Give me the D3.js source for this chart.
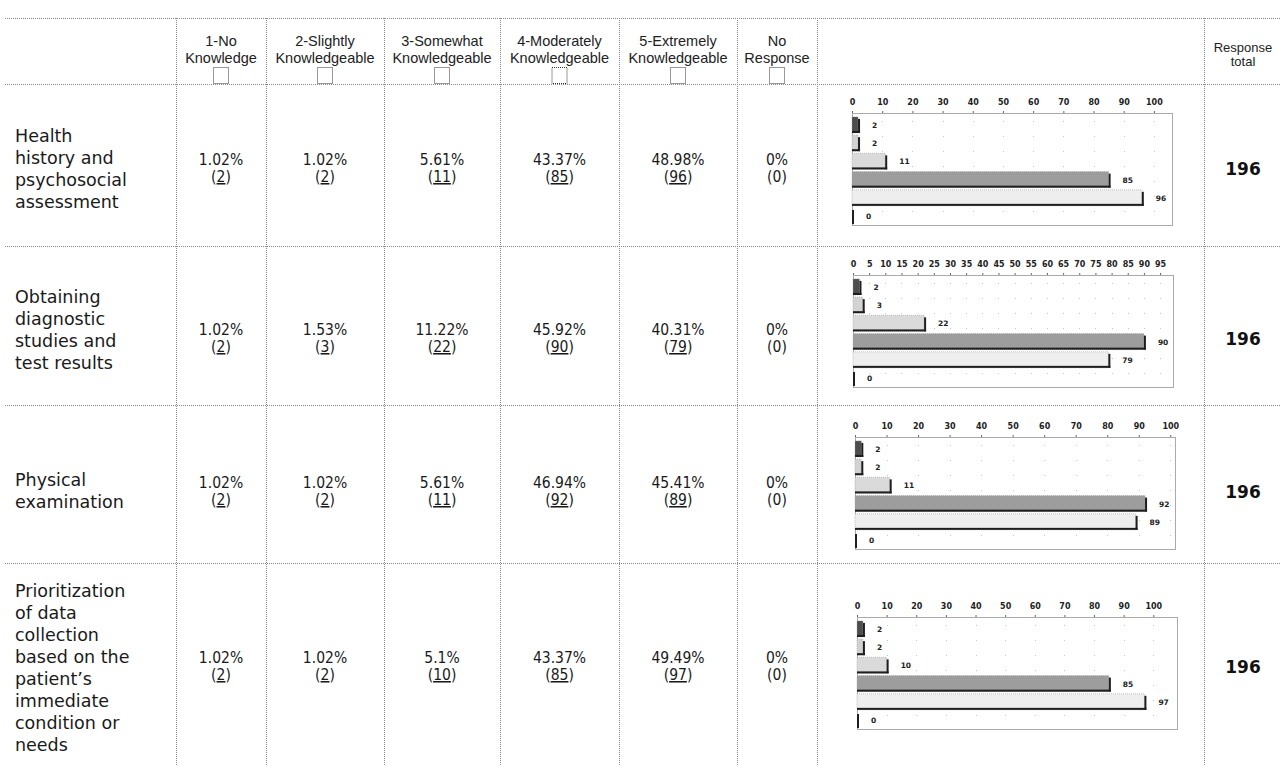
<!DOCTYPE html>
<html>
<head>
<meta charset="utf-8">
<script src="https://cdn.jsdelivr.net/npm/d3@7"></script>
<style>
  body { margin: 0; background: #fff; }
</style>
</head>
<body>
<div id="chart"></div>
<script>
// knowledge levels (header columns)
var levels = [
  ['1-No', 'Knowledge'],
  ['2-Slightly', 'Knowledgeable'],
  ['3-Somewhat', 'Knowledgeable'],
  ['4-Moderately', 'Knowledgeable'],
  ['5-Extremely', 'Knowledgeable'],
  ['No', 'Response']
];
var totalHeader = ['Response', 'total'];

var topics = [
  ['Health', 'history and', 'psychosocial', 'assessment'],
  ['Obtaining', 'diagnostic', 'studies and', 'test results'],
  ['Physical', 'examination'],
  ['Prioritization', 'of data', 'collection', 'based on the', 'patient\u2019s', 'immediate', 'condition or', 'needs']
];

var percents = [
  [1.02, 1.02, 5.61, 43.37, 48.98, 0],
  [1.02, 1.53, 11.22, 45.92, 40.31, 0],
  [1.02, 1.02, 5.61, 46.94, 45.41, 0],
  [1.02, 1.02, 5.1, 43.37, 49.49, 0]
];

var counts = [
  [2, 2, 11, 85, 96, 0],
  [2, 3, 22, 90, 79, 0],
  [2, 2, 11, 92, 89, 0],
  [2, 2, 10, 85, 97, 0]
];

var totals = [196, 196, 196, 196];

// tick labels of each small bar chart
var chartTicks = [
  [0, 10, 20, 30, 40, 50, 60, 70, 80, 90, 100],
  [0, 5, 10, 15, 20, 25, 30, 35, 40, 45, 50, 55, 60, 65, 70, 75, 80, 85, 90, 95],
  [0, 10, 20, 30, 40, 50, 60, 70, 80, 90, 100],
  [0, 10, 20, 30, 40, 50, 60, 70, 80, 90, 100]
];
// axis extent of each small chart
var chartMax = [106, 99, 101.5, 108];

var dims = {
  width: 1280,
  height: 766,
  headTop: 18,
  headBottom: 84,
  rowLines: [246, 405, 563],
  cols: [176, 266, 384, 500, 619, 737, 817, 1204],
  labelX: 15,
  labelBase: [142, 303, 486, 597],
  labelLine: 22,
  cellBase: [165, 335, 488, 663],
  cellLine: 17,
  chartLeft: [852, 853, 855, 857],
  chartTop: [113, 275, 437, 617],
  chartWidth: 320,
  chartHeight: 112,
  totalX: 1243
};

var barFills = ['#4d4d4d', '#d2d2d2', '#dadada', '#9d9d9d', '#eeeeee', '#ffffff'];

var svg = d3.select('#chart').append('svg')
  .attr('width', dims.width)
  .attr('height', dims.height)
  .style('background', '#fff');

var lineColor = '#8a8a8a';

var drawGrid = function() {
  var hy = [dims.headTop, dims.headBottom].concat(dims.rowLines);
  hy.forEach(function(y) {
    svg.append('line')
      .attr('x1', 5).attr('x2', dims.width)
      .attr('y1', y + 0.5).attr('y2', y + 0.5)
      .attr('stroke', lineColor)
      .attr('stroke-dasharray', '1,1');
  });
  dims.cols.forEach(function(x) {
    svg.append('line')
      .attr('x1', x + 0.5).attr('x2', x + 0.5)
      .attr('y1', dims.headTop).attr('y2', dims.height)
      .attr('stroke', lineColor)
      .attr('stroke-dasharray', '1,1');
  });
};

var colMid = function(i) {
  return (dims.cols[i] + dims.cols[i + 1]) / 2;
};

var drawHeader = function() {
  levels.forEach(function(lines, i) {
    var cx = colMid(i);
    lines.forEach(function(t, j) {
      svg.append('text')
        .attr('x', cx)
        .attr('y', 46 + j * 17)
        .attr('text-anchor', 'middle')
        .attr('font-family', 'Liberation Sans, Arial, sans-serif')
        .attr('font-size', 14.5)
        .attr('fill', '#222')
        .text(t);
    });
    svg.append('rect')
      .attr('x', cx - 7.5)
      .attr('y', 67.5)
      .attr('width', 15)
      .attr('height', 16)
      .attr('fill', '#fff')
      .attr('stroke', '#333')
      .attr('stroke-dasharray', '1,1');
  });

  totalHeader.forEach(function(t, j) {
    svg.append('text')
      .attr('x', dims.totalX)
      .attr('y', 52 + j * 14)
      .attr('text-anchor', 'middle')
      .attr('font-family', 'Liberation Sans, Arial, sans-serif')
      .attr('font-size', 13)
      .attr('fill', '#222')
      .text(t);
  });
};

var drawRows = function() {
  topics.forEach(function(lines, r) {
    lines.forEach(function(t, j) {
      svg.append('text')
        .attr('x', dims.labelX)
        .attr('y', dims.labelBase[r] + j * dims.labelLine)
        .attr('font-family', 'DejaVu Sans, Verdana, sans-serif')
        .attr('font-size', 17.5)
        .attr('fill', '#1a1a1a')
        .text(t);
    });

    percents[r].forEach(function(p, c) {
      var cx = colMid(c);
      svg.append('text')
        .attr('x', cx)
        .attr('y', dims.cellBase[r])
        .attr('text-anchor', 'middle')
        .attr('font-family', 'DejaVu Sans Condensed, DejaVu Sans, sans-serif')
        .style('font-stretch', 'condensed')
        .attr('font-size', 15.5)
        .attr('fill', '#1a1a1a')
        .text(p + '%');

      var t = svg.append('text')
        .attr('x', cx)
        .attr('y', dims.cellBase[r] + dims.cellLine)
        .attr('text-anchor', 'middle')
        .attr('font-family', 'DejaVu Sans Condensed, DejaVu Sans, sans-serif')
        .style('font-stretch', 'condensed')
        .attr('font-size', 15.5)
        .attr('fill', '#1a1a1a');
      t.append('tspan').text('(');
      t.append('tspan')
        .style('text-decoration', counts[r][c] > 0 ? 'underline' : 'none')
        .text(counts[r][c]);
      t.append('tspan').text(')');
    });

    svg.append('text')
      .attr('x', dims.totalX)
      .attr('y', dims.cellBase[r] + 10)
      .attr('text-anchor', 'middle')
      .attr('font-family', 'DejaVu Sans, Verdana, sans-serif')
      .attr('font-weight', 'bold')
      .attr('font-size', 17)
      .attr('fill', '#111')
      .text(totals[r]);
  });
};

var drawMiniChart = function(r) {
  var left = dims.chartLeft[r];
  var top = dims.chartTop[r];
  var w = dims.chartWidth;
  var h = dims.chartHeight;

  var x = d3.scaleLinear().domain([0, chartMax[r]]).range([left, left + w]);
  var y = d3.scaleBand()
    .domain(d3.range(counts[r].length))
    .range([top + 3, top + h])
    .paddingInner(0.12)
    .paddingOuter(0.05);

  var g = svg.append('g');

  // faint dotted grid
  g.selectAll('line.grid')
    .data(chartTicks[r].slice(1))
    .enter().append('line')
    .attr('class', 'grid')
    .attr('x1', function(d) { return Math.round(x(d)) + 0.5; })
    .attr('x2', function(d) { return Math.round(x(d)) + 0.5; })
    .attr('y1', top + 8)
    .attr('y2', top + h)
    .attr('stroke', '#c4c4c4')
    .attr('stroke-dasharray', '1,14');

  g.append('rect')
    .attr('x', left + 0.5)
    .attr('y', top + 0.5)
    .attr('width', w)
    .attr('height', h)
    .attr('fill', 'none')
    .attr('stroke', '#555')
    .attr('stroke-dasharray', '1,1');

  var axis = d3.axisTop(x)
    .tickValues(chartTicks[r])
    .tickSize(2)
    .tickPadding(6)
    .tickFormat(d3.format('d'));

  var ax = g.append('g')
    .attr('transform', 'translate(0,' + top + ')')
    .call(axis);
  ax.select('.domain').remove();
  ax.selectAll('.tick line').attr('stroke', '#666');
  ax.selectAll('text')
    .attr('font-family', 'DejaVu Sans, sans-serif')
    .attr('font-weight', 'bold')
    .attr('font-size', 8)
    .attr('fill', '#222');

  counts[r].forEach(function(v, i) {
    var y0 = y(i);
    var bh = y.bandwidth();
    var x0 = x(0);
    var x1 = x(v);

    if (v > 0) {
      g.append('rect')
        .attr('x', x0)
        .attr('y', y0)
        .attr('width', x1 - x0)
        .attr('height', bh)
        .attr('fill', barFills[i])
        .attr('stroke', '#9a9a9a')
        .attr('stroke-width', 0.6)
        .attr('stroke-dasharray', '1,1');
      // dark edge on bottom and right
      g.append('rect')
        .attr('x', x0)
        .attr('y', y0 + bh - 2)
        .attr('width', x1 - x0 + 2)
        .attr('height', 2)
        .attr('fill', '#1e1e1e');
      g.append('rect')
        .attr('x', x1)
        .attr('y', y0 + 2)
        .attr('width', 2)
        .attr('height', bh - 2)
        .attr('fill', '#1e1e1e');
    } else {
      g.append('rect')
        .attr('x', x0)
        .attr('y', y0 + 2)
        .attr('width', 2)
        .attr('height', bh - 2)
        .attr('fill', '#1e1e1e');
    }

    g.append('text')
      .attr('x', x1 + 14)
      .attr('y', y0 + bh / 2 + 3)
      .attr('font-family', 'DejaVu Sans, sans-serif')
      .attr('font-weight', 'bold')
      .attr('font-size', 7.5)
      .attr('fill', '#222')
      .text(v);
  });
};

drawGrid();
drawHeader();
drawRows();
for (var r = 0; r < counts.length; r++) {
  drawMiniChart(r);
}
</script>
</body>
</html>
